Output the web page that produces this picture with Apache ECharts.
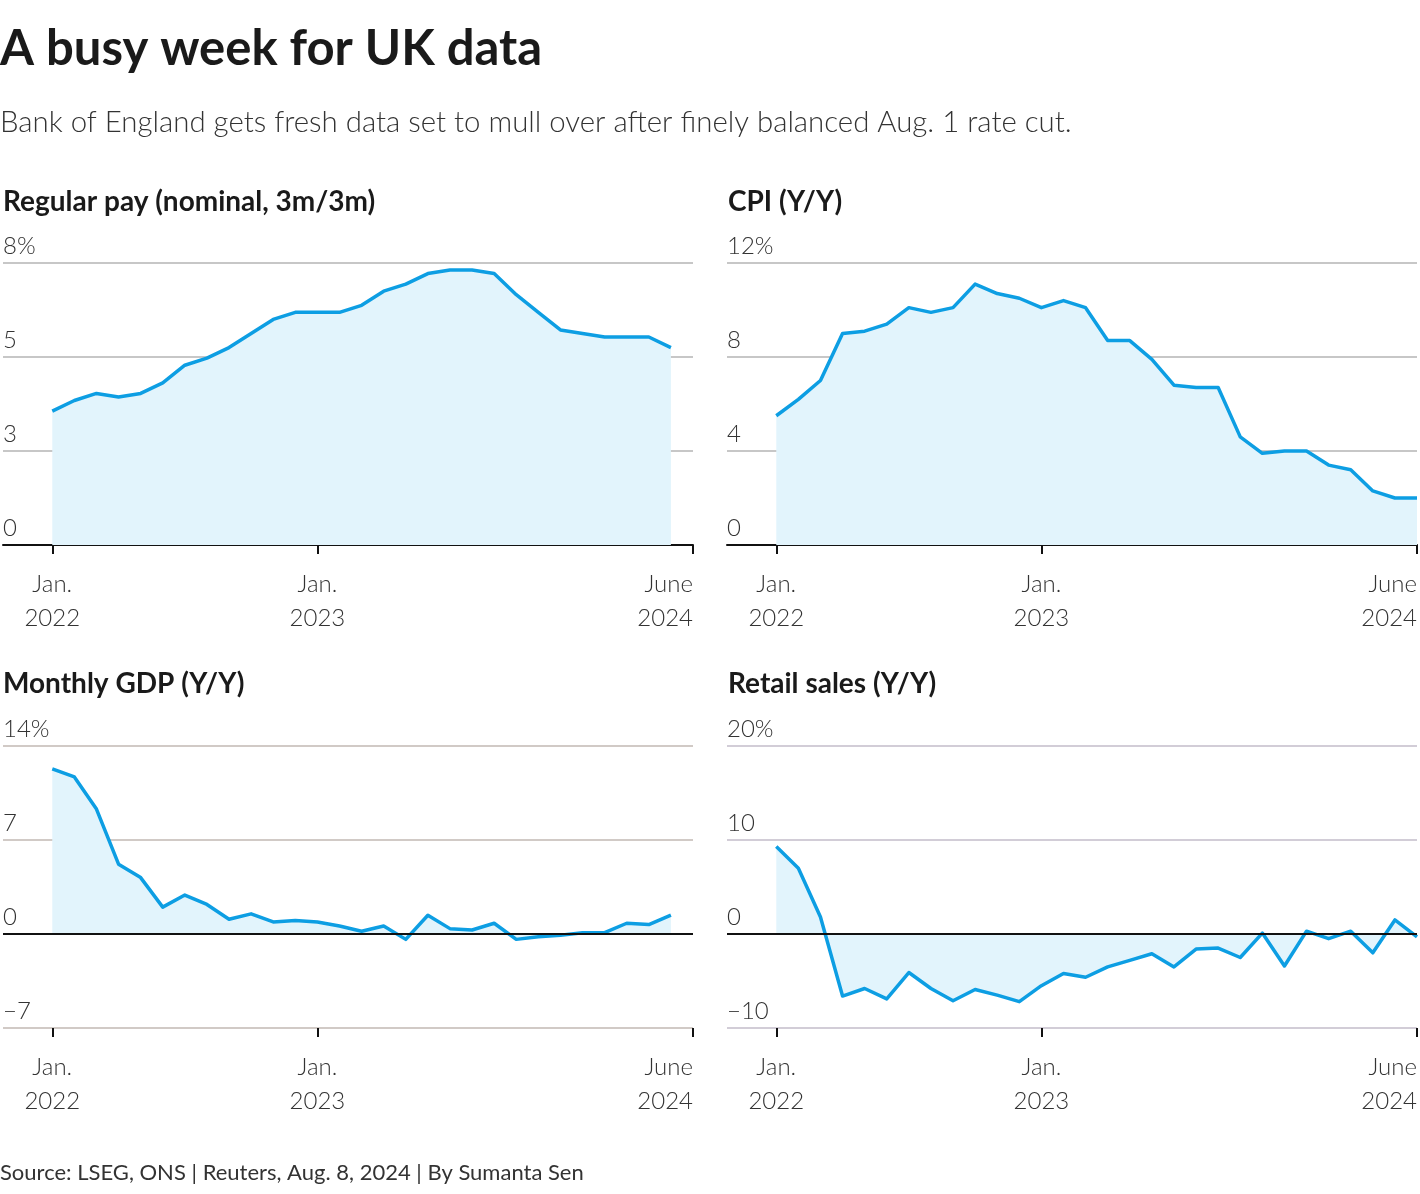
<!DOCTYPE html>
<html><head><meta charset="utf-8">
<script src="https://cdn.jsdelivr.net/npm/echarts@6/dist/echarts.min.js"></script>
<style>html,body{margin:0;padding:0;background:#fff}#c{width:1420px;height:1194px}</style>
</head><body><div id="c"></div>
<script>
const months = ['2022-01','2022-02','2022-03','2022-04','2022-05','2022-06','2022-07','2022-08','2022-09','2022-10','2022-11','2022-12',
  '2023-01','2023-02','2023-03','2023-04','2023-05','2023-06','2023-07','2023-08','2023-09','2023-10','2023-11','2023-12',
  '2024-01','2024-02','2024-03','2024-04','2024-05','2024-06'];
const xTickMonths = ['2022-01','2023-01','2024-06'];
const xTickLabels = ['Jan.\n2022','Jan.\n2023','June\n2024'];

const payValues = [3.8,4.1,4.3,4.2,4.3,4.6,5.1,5.3,5.6,6.0,6.4,6.6,6.6,6.6,6.8,7.2,7.4,7.7,7.8,7.8,7.7,7.1,6.6,6.1,6.0,5.9,5.9,5.9,5.6];
const cpiValues = [5.5,6.2,7.0,9.0,9.1,9.4,10.1,9.9,10.1,11.1,10.7,10.5,10.1,10.4,10.1,8.7,8.7,7.9,6.8,6.7,6.7,4.6,3.9,4.0,4.0,3.4,3.2,2.3,2.0,2.0];
const gdpValues = [12.3,11.7,9.3,5.2,4.2,2.0,2.9,2.2,1.1,1.5,0.9,1.0,0.9,0.6,0.2,0.6,-0.4,1.4,0.4,0.3,0.8,-0.4,-0.2,-0.1,0.1,0.1,0.8,0.7,1.4];
const retailValues = [9.3,7.0,1.8,-6.6,-5.8,-6.9,-4.1,-5.8,-7.1,-5.9,-6.5,-7.2,-5.5,-4.2,-4.6,-3.5,-2.8,-2.1,-3.5,-1.6,-1.5,-2.5,0.1,-3.4,0.3,-0.5,0.3,-2.0,1.5,-0.3];

const panels = [
  {title:'Regular pay (nominal, 3m/3m)', values: payValues, min:0, max:8, interval:8/3, grid:'#b5b5b5', zeroAxis:true},
  {title:'CPI (Y/Y)', values: cpiValues, min:0, max:12, interval:4, grid:'#b5b5b5', zeroAxis:true},
  {title:'Monthly GDP (Y/Y)', values: gdpValues, min:-7, max:14, interval:7, grid:'#c2b8b3', zeroAxis:false},
  {title:'Retail sales (Y/Y)', values: retailValues, min:-10, max:20, interval:10, grid:'#c3bcca', zeroAxis:false}
];
const pos = [
  {left:2, top:263, title:[3,188]},
  {left:727, top:263, title:[728,188]},
  {left:2, top:746, title:[3,670]},
  {left:727, top:746, title:[728,670]}
];
const W = 691, H = 282;
const FONT = 'Lato';
const tickIdx = xTickMonths.map(m => months.indexOf(m));

const chart = echarts.init(document.getElementById('c'), null, {renderer:'canvas'});
const grids=[], xAxes=[], yAxes=[], series=[], titles=[];
titles.push({text:'A busy week for UK data', left:0, top:25, padding:0, textStyle:{fontFamily:FONT, fontWeight:'bold', fontSize:49, color:'#1a1a1a'}});
titles.push({text:'Bank of England gets fresh data set to mull over after finely balanced Aug. 1 rate cut.', left:0, top:108, padding:0, textStyle:{fontFamily:FONT, fontWeight:300, fontSize:29.4, color:'#333'}});
titles.push({text:'Source: LSEG, ONS | Reuters, Aug. 8, 2024 | By Sumanta Sen', left:0, top:1162, padding:0, textStyle:{fontFamily:FONT, fontWeight:'normal', fontSize:22, color:'#333'}});

panels.forEach((p,i)=>{
  const g = pos[i];
  titles.push({text:p.title, left:g.title[0], top:g.title[1], padding:0, textStyle:{fontFamily:FONT, fontWeight:'bold', fontSize:28, color:'#1a1a1a'}});
  grids.push({left:g.left, top:g.top, width:W, height:H});
  xAxes.push({
    type:'value', gridIndex:i, min:-2.23, max:months.length-1,
    splitLine:{show:false},
    axisLine:{show:p.zeroAxis, onZero:false, lineStyle:{color:'#111', width:2}},
    axisTick:{show:true, customValues:tickIdx, length:9, lineStyle:{color:'#111', width:2}},
    axisLabel:{customValues:tickIdx, margin:22, fontFamily:FONT, fontWeight:300, fontSize:24, lineHeight:34, color:'#333',
      alignMaxLabel:'right',
      formatter:(v)=>{const k=tickIdx.indexOf(Math.round(v)); return k>=0?xTickLabels[k]:'';}}
  });
  yAxes.push({
    type:'value', gridIndex:i, min:p.min, max:p.max, interval:p.interval,
    axisLine:{show:false}, axisTick:{show:false},
    splitLine:{show:true, lineStyle:{color:p.grid, width:1.5}},
    axisLabel:{inside:true, margin:0, verticalAlign:'bottom', padding:[0,0,5,0], fontFamily:FONT, fontWeight:300, fontSize:24, color:'#333',
      formatter:(v)=>{const r=Math.round(v); return Math.abs(v-p.max)<1e-6 ? r+'%' : (r<0?'\u2212'+Math.abs(r):String(r));}}
  });
  series.push({
    type:'line', xAxisIndex:i, yAxisIndex:i,
    data:p.values.map((v,k)=>[k,v]),
    symbol:'none', smooth:false,
    lineStyle:{color:'#0d9ee3', width:3.5, join:'round'},
    areaStyle:{color:'#e2f4fc', opacity:1},
    markLine: p.zeroAxis ? undefined : {silent:true, symbol:'none', label:{show:false},
      lineStyle:{color:'#111', width:2, type:'solid'}, data:[{yAxis:0}]},
    z:3
  });
});

chart.setOption({
  animation:false,
  backgroundColor:'#fff',
  title:titles, grid:grids, xAxis:xAxes, yAxis:yAxes, series:series
});
</script></body></html>
